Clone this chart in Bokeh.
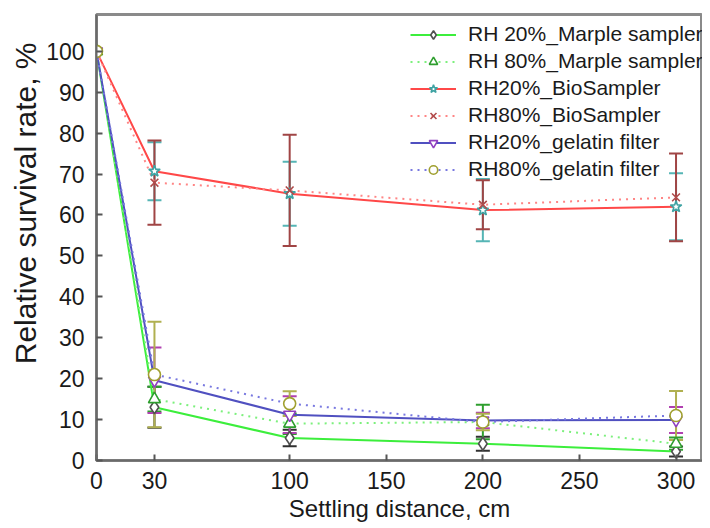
from bokeh.plotting import figure
from bokeh.models import (ColumnDataSource, Whisker, TeeHead, FixedTicker, Range1d,
                          Legend, LegendItem, Title)
from bokeh.embed import file_html
from bokeh.resources import INLINE

distance = [0, 30, 100, 200, 300]
x_ticks = [0, 30, 100, 150, 200, 250, 300]
y_ticks = [0, 10, 20, 30, 40, 50, 60, 70, 80, 90, 100]

names = ["RH 20%_Marple sampler", "RH 80%_Marple sampler", "RH20%_BioSampler",
         "RH80%_BioSampler", "RH20%_gelatin filter", "RH80%_gelatin filter"]

marple20 = [100, 13.0, 5.5, 4.1, 2.2]
marple20_err = [0, 5.0, 2.0, 1.7, 1.2]
marple80 = [100, 15.0, 9.0, 9.4, 4.1]
marple80_err = [0, 3.0, 2.5, 4.2, 1.5]
bio20 = [100, 70.7, 65.2, 61.2, 62.0]
bio20_err = [0, 7.1, 7.8, 7.6, 8.2]
bio80 = [100, 67.9, 66.0, 62.5, 64.3]
bio80_err = [0, 10.3, 13.6, 6.0, 10.7]
gel20 = [100, 19.6, 11.2, 9.8, 9.9]
gel20_err = [0, 8.0, 4.5, 1.9, 3.2]
gel80 = [100, 21.0, 13.9, 9.4, 11.0]
gel80_err = [0, 12.9, 3.0, 2.0, 6.0]

series = [
    (marple20, marple20_err, "#3cee3c", "solid", "diamond", "#505050", "white", "#303030", 13),
    (marple80, marple80_err, "#7cf07c", "2 5", "triangle", "#2e9e2e", "white", "#2e9e2e", 12),
    (bio20, bio20_err, "#ff4848", "solid", "star", "#3fa3a3", "white", "#55b5b5", 12),
    (bio80, bio80_err, "#ff8585", "2 5", "x", "#b04a4a", "#b04a4a", "#a04545", 11),
    (gel20, gel20_err, "#5050c0", "solid", "inverted_triangle", "#9040c0", "white", "#b040b0", 12),
    (gel80, gel80_err, "#7878e0", "2 5", "circle", "#a0a030", "white", "#b0b050", 12),
]

p = figure(width=702, height=524, output_backend="svg", toolbar_location=None,
           x_range=Range1d(0, 313.7), y_range=Range1d(0, 109),
           min_border_left=96, min_border_right=0, min_border_top=14, min_border_bottom=40)

p.xgrid.visible = False
p.ygrid.visible = False
p.background_fill_color = "white"
p.border_fill_color = "white"
p.outline_line_color = "#8a8a8a"
p.outline_line_width = 3

for ax in (p.xaxis[0], p.yaxis[0]):
    ax.axis_line_color = "#6a6a6a"
    ax.axis_line_width = 2
    ax.major_tick_in = 6
    ax.major_tick_out = 0
    ax.major_tick_line_color = "#555555"
    ax.major_tick_line_width = 2
    ax.minor_tick_line_color = None
    ax.major_label_text_font = "Liberation Sans"
    ax.major_label_text_font_size = "23px"
    ax.major_label_text_color = "#1a1a1a"
    ax.axis_label_text_font = "Liberation Sans"
    ax.axis_label_text_font_size = "24px"
    ax.axis_label_text_font_style = "normal"
    ax.axis_label_text_color = "#1a1a1a"

p.xaxis.ticker = FixedTicker(ticks=x_ticks)
p.yaxis.ticker = FixedTicker(ticks=y_ticks)
p.xaxis.axis_label = "Settling distance, cm"
p.xaxis.major_label_standoff = 11
p.yaxis.major_label_standoff = 12
p.xaxis.axis_label_standoff = 3

ytitle = Title(text="Relative survival rate, %", align="right", offset=28, standoff=4,
               text_font="Liberation Sans", text_font_size="30px",
               text_font_style="normal", text_color="#1a1a1a")
p.add_layout(ytitle, "left")

items = []
markers = []
for (vals, errs, lcol, dash, mk, mcol, mfill, ecol, msize), name in zip(series, names):
    src = ColumnDataSource(dict(x=distance, y=vals))
    ln = p.line("x", "y", source=src, line_color=lcol, line_width=2, line_dash=dash)
    esrc = ColumnDataSource(dict(
        x=distance[1:],
        upper=[v + e for v, e in zip(vals[1:], errs[1:])],
        lower=[v - e for v, e in zip(vals[1:], errs[1:])]))
    w = Whisker(source=esrc, base="x", upper="upper", lower="lower", dimension="height",
                line_color=ecol, line_width=2,
                upper_head=TeeHead(size=14, line_color=ecol, line_width=2),
                lower_head=TeeHead(size=14, line_color=ecol, line_width=2))
    p.add_layout(w)
    markers.append((src, mk, mcol, mfill, msize, ln, name))

for src, mk, mcol, mfill, msize, ln, name in markers:
    sc = p.scatter("x", "y", source=src, marker=mk, size=msize, line_color=mcol,
                   fill_color=mfill, line_width=1.6)
    items.append(LegendItem(label=name, renderers=[ln, sc]))

legend = Legend(items=items, location=(314, 279), margin=0, padding=4,
                spacing=3, label_height=21, glyph_height=21, glyph_width=46,
                label_standoff=12, label_text_font="Liberation Sans",
                label_text_font_size="21px", label_text_color="#1a1a1a",
                border_line_color=None, background_fill_alpha=0)
p.add_layout(legend)

open("out.html", "w").write(file_html(p, INLINE))
